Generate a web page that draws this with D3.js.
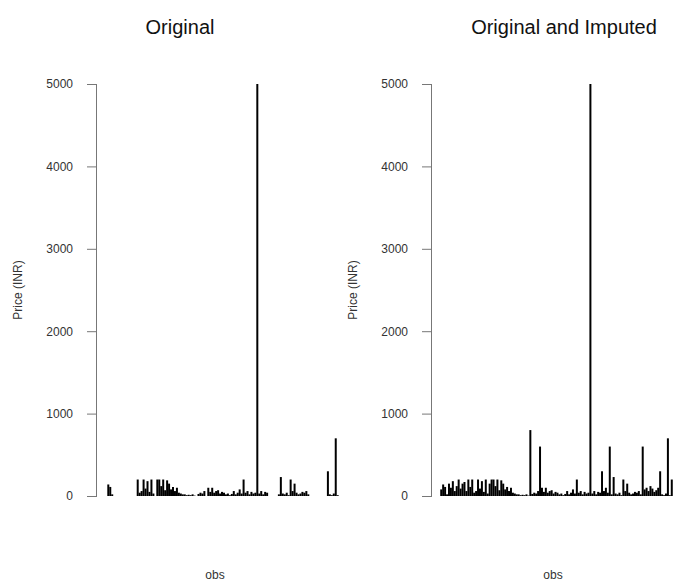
<!DOCTYPE html>
<html>
<head>
<meta charset="utf-8">
<script src="https://cdn.jsdelivr.net/npm/d3@7"></script>
<style>
  body { margin: 0; background: #fff; }
  svg { font-family: "Liberation Sans", Arial, sans-serif; }
</style>
</head>
<body>
<div id="chart"></div>
<script>
// observed prices (null = missing)
const original = [
  null, 140, 110, 20, null, null, null, null, null, null,
  null, null, null, null, null, null, 200, 40, 60, 200,
  90, 180, 50, 200, 30, null, 200, 200, 120, 200,
  70, 190, 150, 80, 110, 60, 100, 40, 30, 20,
  20, 10, 15, 10, 20, 5, null, 25, 40, 30,
  60, null, 100, 50, 100, 40, 60, 70, 30, 50,
  40, 20, 30, 10, 25, 60, 20, 40, 80, 30,
  200, 40, 60, 20, 50, 30, 40, 5000, 30, 60,
  20, 50, 40, null, null, null, null, null, 20, 230,
  30, 20, 40, 10, 200, 60, 150, 40, 20, 30,
  50, 40, 60, 20, null, null, null, null, null, null,
  null, null, null, 300, 20, 10, 30, 700, 10, null
];
// values filled in at the missing positions
const imputedIdx = [1, 5, 6, 7, 8, 9, 10, 11, 12, 13, 14, 15, 16, 26, 47, 52,
  84, 85, 86, 87, 88, 105, 106, 107, 108, 109, 110, 111, 112, 113, 120];
const imputedVal = [80, 150, 100, 180, 60, 120, 200, 90, 150, 170, 60, 200, 110, 150, 800, 600,
  300, 60, 100, 40, 600, 600, 80, 100, 60, 120, 90, 50, 70, 100, 200];
const yTicks = [0, 1000, 2000, 3000, 4000, 5000];
const titles = ["Original", "Original and Imputed"];

const filled = original.slice();
imputedIdx.forEach((i, k) => { filled[i - 1] = imputedVal[k]; });

const W = 677, H = 587;
const svg = d3.select("#chart").append("svg").attr("width", W).attr("height", H);

const panels = [
  {title: titles[0], data: original, x0: 97, x1: 349, titleX: 180, obsX: 215, ylabX: 22},
  {title: titles[1], data: filled,   x0: 432, x1: 681, titleX: 564, obsX: 553, ylabX: 357}
];

const n = original.length;
const pad = 0.04 * (n - 1);
const y = d3.scaleLinear().domain([0, 5000]).range([496, 84]);

panels.forEach(p => {
  const x = d3.scaleLinear().domain([1 - pad, n + pad]).range([p.x0, p.x1]);
  const g = svg.append("g");

  const pts = p.data.map((v, i) => ({i: i + 1, v})).filter(d => d.v != null);

  g.selectAll("line.h")
    .data(pts)
    .join("line")
    .attr("class", "h")
    .attr("x1", d => x(d.i)).attr("x2", d => x(d.i))
    .attr("y1", y(0)).attr("y2", d => y(d.v))
    .attr("stroke", "#000")
    .attr("stroke-width", 2);

  const ax = g.append("g")
    .attr("transform", `translate(${p.x0},0)`)
    .call(d3.axisLeft(y).tickValues(yTicks).tickSize(10).tickPadding(14).tickFormat(d3.format("d")));
  ax.select(".domain").attr("stroke", "#777").attr("d", `M-0.5,${y(0)}V${y(5000)}`);
  ax.selectAll(".tick line").attr("stroke", "#777");
  ax.selectAll(".tick text").attr("fill", "#333").attr("font-size", 12)
    .attr("font-family", "Liberation Sans, Arial, sans-serif");

  g.append("text")
    .attr("x", p.titleX).attr("y", 34)
    .attr("text-anchor", "middle")
    .attr("font-size", 20)
    .attr("fill", "#111")
    .text(p.title);

  g.append("text")
    .attr("x", p.obsX).attr("y", 579)
    .attr("text-anchor", "middle")
    .attr("font-size", 12)
    .attr("fill", "#333")
    .text("obs");

  g.append("text")
    .attr("transform", `translate(${p.ylabX},290) rotate(-90)`)
    .attr("text-anchor", "middle")
    .attr("font-size", 12)
    .attr("fill", "#333")
    .text("Price (INR)");
});
</script>
</body>
</html>
